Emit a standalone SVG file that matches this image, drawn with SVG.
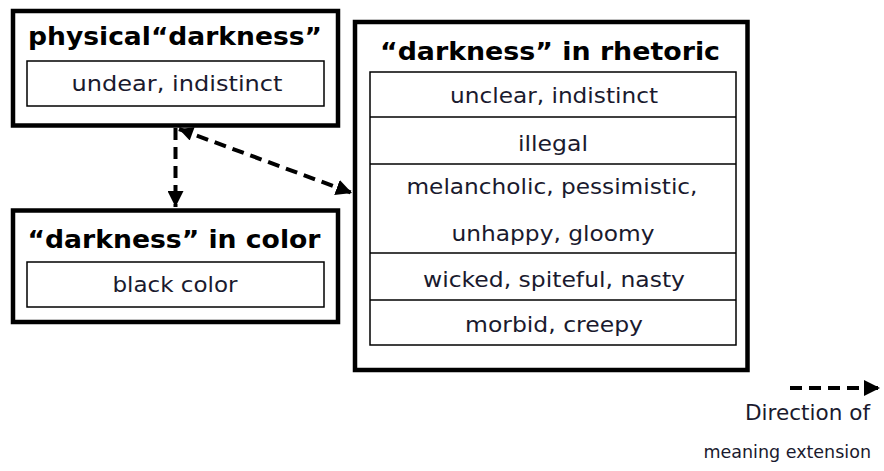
<svg xmlns="http://www.w3.org/2000/svg" width="884" height="471" viewBox="0 0 884 471">
<style>
.outer{fill:#fff;stroke:#000;stroke-width:4.5}
.inner{fill:#fff;stroke:#000;stroke-width:1.5}
.title{font-family:"DejaVu Sans",Verdana,sans-serif;font-weight:bold;font-size:24px;fill:#000;text-anchor:middle}
.item{font-family:"DejaVu Sans",Verdana,sans-serif;font-size:22px;fill:#1a1a2e;text-anchor:middle}
.legend{font-family:"DejaVu Sans",Verdana,sans-serif;font-size:21px;fill:#1a1a2e;text-anchor:end}
.conn{fill:none;stroke:#000;stroke-width:4;stroke-dasharray:12 7}
</style>
<defs>
<marker id="ah" viewBox="0 0 10 10" refX="10" refY="5" markerWidth="4" markerHeight="4" orient="auto" markerUnits="strokeWidth">
<path d="M0,0 L10,5 L0,10 Z" fill="#000"/>
</marker>
<marker id="ahs" viewBox="0 0 10 10" refX="0" refY="5" markerWidth="4" markerHeight="3.5" orient="auto" markerUnits="strokeWidth">
<path d="M10,0 L0,5 L10,10 Z" fill="#000"/>
</marker>
</defs>
<rect width="884" height="471" fill="#fff"/>
<g id="physical">
<rect class="outer" x="13" y="11" width="325" height="114.5"/>
<text class="title" x="175" y="45" textLength="294" lengthAdjust="spacingAndGlyphs">physical“darkness”</text>
<rect class="inner" x="27" y="61" width="297" height="45"/>
<text class="item" x="177" y="91" textLength="211" lengthAdjust="spacingAndGlyphs">undear, indistinct</text>
</g>
<g id="color">
<rect class="outer" x="13" y="210.5" width="325" height="111.5"/>
<text class="title" x="174" y="248" textLength="293" lengthAdjust="spacingAndGlyphs">“darkness” in color</text>
<rect class="inner" x="27" y="262" width="297" height="45"/>
<text class="item" x="175" y="292" textLength="125" lengthAdjust="spacingAndGlyphs">black color</text>
</g>
<g id="rhetoric">
<rect class="outer" x="355" y="22" width="392.5" height="348"/>
<text class="title" x="550" y="60" textLength="340" lengthAdjust="spacingAndGlyphs">“darkness” in rhetoric</text>
<rect class="inner" x="370" y="72" width="366" height="273"/>
<line class="inner" x1="370" y1="117" x2="736" y2="117"/>
<line class="inner" x1="370" y1="164" x2="736" y2="164"/>
<line class="inner" x1="370" y1="253" x2="736" y2="253"/>
<line class="inner" x1="370" y1="300" x2="736" y2="300"/>
<text class="item" x="554" y="103" textLength="208" lengthAdjust="spacingAndGlyphs">unclear, indistinct</text>
<text class="item" x="553" y="151" textLength="70" lengthAdjust="spacingAndGlyphs">illegal</text>
<text class="item" x="552" y="194" textLength="291" lengthAdjust="spacingAndGlyphs">melancholic, pessimistic,</text>
<text class="item" x="553" y="241" textLength="203" lengthAdjust="spacingAndGlyphs">unhappy, gloomy</text>
<text class="item" x="554" y="287" textLength="262" lengthAdjust="spacingAndGlyphs">wicked, spiteful, nasty</text>
<text class="item" x="554" y="332" textLength="178" lengthAdjust="spacingAndGlyphs">morbid, creepy</text>
</g>
<g id="legend">
<text class="legend" x="870" y="420" textLength="125" lengthAdjust="spacingAndGlyphs">Direction of</text>
<text class="legend" x="871" y="458" style="font-size:17.5px">meaning extension</text>
</g>
<g id="connectors">
<line class="conn" x1="175.5" y1="128" x2="175.5" y2="207" marker-end="url(#ah)"/>
<line class="conn" x1="179" y1="129" x2="352" y2="193" marker-start="url(#ahs)" marker-end="url(#ah)"/>
<line class="conn" x1="790" y1="388" x2="880" y2="388" marker-end="url(#ah)"/>
</g>
</svg>
